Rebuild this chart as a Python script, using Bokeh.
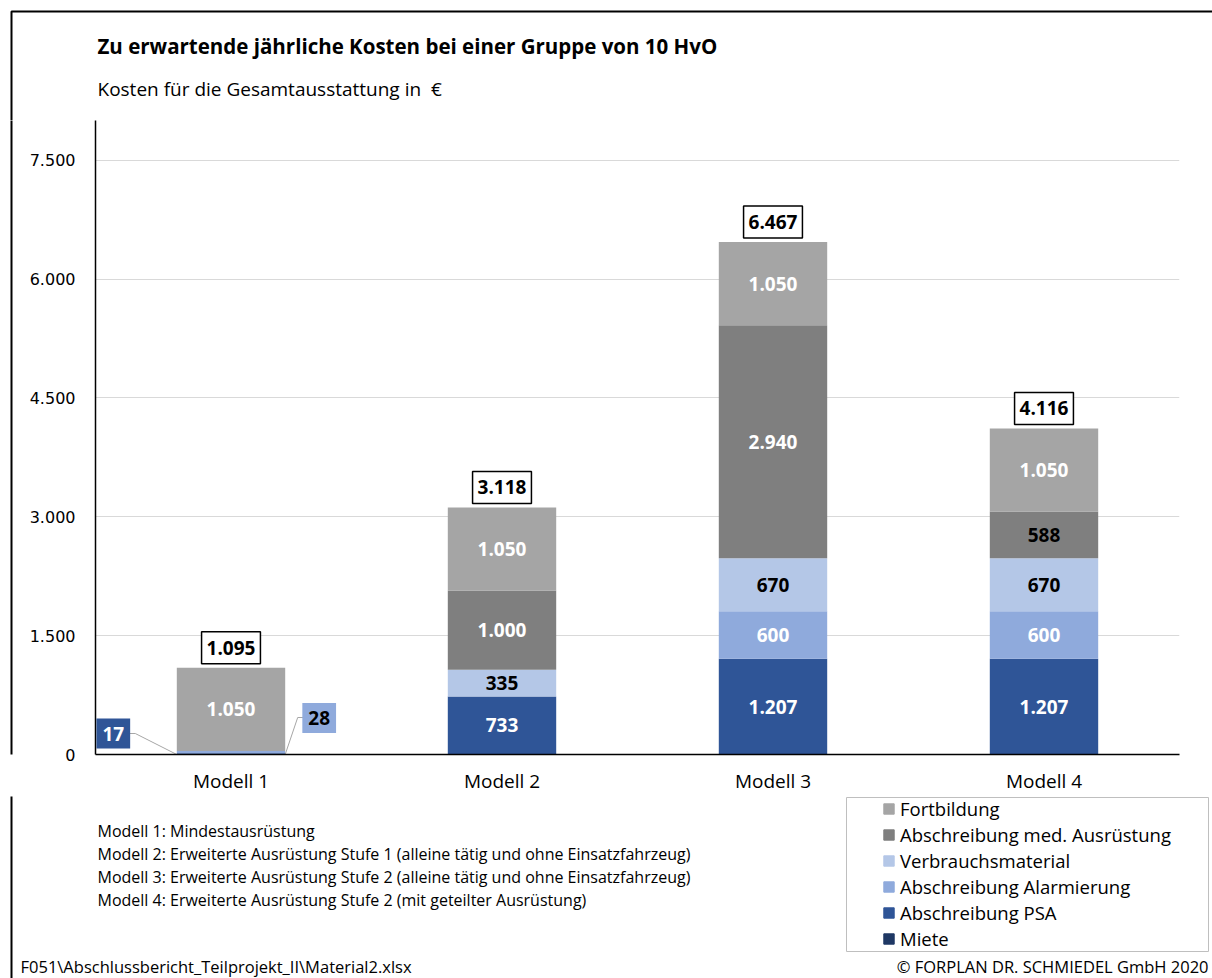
from bokeh.plotting import figure
from bokeh.layouts import column, row
from bokeh.models import (ColumnDataSource, FactorRange, Range1d, FixedTicker, Label,
                          Legend, LegendItem)
from bokeh.core.properties import value
from bokeh.embed import file_html
from bokeh.resources import INLINE

# ---- data -------------------------------------------------------------
models = ["Modell 1", "Modell 2", "Modell 3", "Modell 4"]
miete = [0, 0, 0, 0]
abschreibung_psa = [17, 733, 1207, 1207]
abschreibung_alarmierung = [28, 0, 600, 600]
verbrauchsmaterial = [0, 335, 670, 670]
abschreibung_med = [0, 1000, 2940, 588]
fortbildung = [1050, 1050, 1050, 1050]
totals = [1095, 3118, 6467, 4116]
y_ticks = [0, 1500, 3000, 4500, 6000, 7500]

series_names = ["Miete", "Abschreibung PSA", "Abschreibung Alarmierung",
                "Verbrauchsmaterial", "Abschreibung med. Ausrüstung", "Fortbildung"]
series_values = [miete, abschreibung_psa, abschreibung_alarmierung,
                 verbrauchsmaterial, abschreibung_med, fortbildung]

title_text = "Zu erwartende jährliche Kosten bei einer Gruppe von 10 HvO"
subtitle_text = "Kosten für die Gesamtausstattung in\u00a0 €"
footnotes = [
    "Modell 1: Mindestausrüstung",
    "Modell 2: Erweiterte Ausrüstung Stufe 1 (alleine tätig und ohne Einsatzfahrzeug)",
    "Modell 3: Erweiterte Ausrüstung Stufe 2 (alleine tätig und ohne Einsatzfahrzeug)",
    "Modell 4: Erweiterte Ausrüstung Stufe 2 (mit geteilter Ausrüstung)",
]
source_note = "F051\\Abschlussbericht_Teilprojekt_II\\Material2.xlsx"
copyright_note = "© FORPLAN DR. SCHMIEDEL GmbH 2020"

# ---- styling ----------------------------------------------------------
colors = ["#1F3864", "#2F5597", "#8FAADC", "#B4C7E7", "#7F7F7F", "#A5A5A5"]
label_colors = ["white", "white", "white", "black", "white", "white"]
callout_text_colors = ["white", "white", "black", "black", "white", "white"]
label_color_override = {("Modell 4", "Abschreibung med. Ausrüstung"): "black"}
FONT = "Open Sans"
W, H = 1212, 978
TOP_H = 120            # title strip
MID_H = 676            # chart strip
BOT_H = H - TOP_H - MID_H
STRIP_W = 20           # left strip beside the chart
Y_MAX = 8000
FRAME_COLOR = "black"


def de(v):
    return f"{v:,}".replace(",", ".")


def blank(width, height, fill="white"):
    f = figure(width=width, height=height, x_range=Range1d(0, width), y_range=Range1d(height, 0),
               output_backend="svg", toolbar_location=None, min_border=0)
    f.axis.visible = False
    f.grid.visible = False
    f.outline_line_color = None
    f.background_fill_color = fill
    f.border_fill_color = fill
    return f


def put_text(f, txt, x, y, size, bold=False, align="left"):
    f.add_layout(Label(x=x, y=y, text=txt, text_align=align, text_baseline="middle",
                       text_font=FONT, text_font_size=size,
                       text_font_style="bold" if bold else "normal", text_color="black"))


# ---- title strip --------------------------------------------------------
top = blank(W, TOP_H)
top.line([11, 11, W], [TOP_H + 2, 11, 11], line_color=FRAME_COLOR, line_width=2)
put_text(top, title_text, 97, 45, "20.5px", bold=True)
put_text(top, subtitle_text, 97, 88, "19px")

# ---- left strip carrying the frame rule ----------------------------------
strip = blank(STRIP_W, MID_H)
strip.line([11, 11], [-50, MID_H + 50], line_color=FRAME_COLOR, line_width=2)

# ---- chart --------------------------------------------------------------
L, R, T, B = 75, 33, 0, 42
p = figure(width=W - STRIP_W, height=MID_H, x_range=FactorRange(*models),
           y_range=Range1d(0, Y_MAX), output_backend="svg", toolbar_location=None,
           min_border_left=L, min_border_right=R, min_border_top=T, min_border_bottom=B)
p.outline_line_color = None
p.background_fill_color = "white"
p.border_fill_color = "white"

kx = len(models) / (W - STRIP_W - L - R)   # data units per pixel (x)
ky = Y_MAX / (MID_H - T - B)                # data units per pixel (y)

p.yaxis.ticker = FixedTicker(ticks=y_ticks)
p.yaxis.major_label_overrides = {t: de(t) for t in y_ticks}
p.yaxis.major_label_text_font = "DejaVu Sans"
p.yaxis.major_label_text_font_size = "16px"
p.yaxis.major_label_text_color = "black"
p.yaxis.major_label_standoff = 20
p.yaxis.axis_line_color = "black"
p.yaxis.axis_line_width = 1.5

p.xaxis.major_label_text_font = FONT
p.xaxis.major_label_text_font_size = "19px"
p.xaxis.major_label_text_color = "black"
p.xaxis.major_label_standoff = 13
p.xaxis.axis_line_color = "black"
p.xaxis.axis_line_width = 1.5

for ax in (p.xaxis, p.yaxis):
    ax.major_tick_line_color = None
    ax.minor_tick_line_color = None
    ax.major_tick_out = 0
    ax.major_tick_in = 0
    ax.minor_tick_out = 0

p.xgrid.grid_line_color = None
p.ygrid.grid_line_color = "#D9D9D9"
p.ygrid.grid_line_width = 1.2

data = {"model": models}
for name, vals in zip(series_names, series_values):
    data[name] = vals
src = ColumnDataSource(data)
p.vbar_stack(series_names, x="model", width=0.4, color=colors, source=src, line_color=None)

# labels inside the segments; thin segments get callouts instead
lx, ly, lt, lc = [], [], [], []
callouts = []
for i, m in enumerate(models):
    base = 0
    for j, (name, vals) in enumerate(zip(series_names, series_values)):
        v = vals[i]
        if v > 0:
            if v >= 100:
                lx.append(m)
                ly.append(base + v / 2)
                lt.append(de(v))
                lc.append(label_color_override.get((m, name), label_colors[j]))
            else:
                callouts.append((i, j, v))
        base += v
p.text(x="x", y="y", text="t", text_color="c",
       source=ColumnDataSource(dict(x=lx, y=ly, t=lt, c=lc)),
       text_font=value(FONT), text_font_style="bold", text_font_size="19px",
       text_align="center", text_baseline="middle")

# callout geometry in pixels relative to the bar's bottom corner
callout_geometry = [
    dict(side=-1, box=(-63.5, 21), elbow=[(-41.5, 21), (-47.5, 21)]),
    dict(side=1, box=(34, 36.5), elbow=[(12.5, 37), (18.5, 37)]),
]
for (i, j, v), geo in zip(callouts, callout_geometry):
    edge = i + 0.5 + geo["side"] * 0.2
    xs = [edge] + [edge + dx * kx for dx, _ in geo["elbow"]]
    ys = [0] + [dy * ky for _, dy in geo["elbow"]]
    p.line(xs, ys, line_color="#A6A6A6", line_width=1)
    bx, by = geo["box"]
    p.add_layout(Label(x=edge, y=0, x_offset=bx, y_offset=by, text=de(v),
                       anchor="center", text_align="center", text_baseline="middle",
                       text_font=FONT, text_font_style="bold", text_font_size="19px",
                       text_color=callout_text_colors[j],
                       background_fill_color=colors[j],
                       padding=dict(left=6, right=6, top=8, bottom=8)))

# totals above the bars
for i, t in enumerate(totals):
    bar_top = sum(vals[i] for vals in series_values)
    p.add_layout(Label(x=i + 0.5, y=bar_top, y_offset=4, text=de(t), anchor="bottom_center",
                       text_align="center", text_baseline="bottom",
                       text_font=FONT, text_font_style="bold", text_font_size="19px",
                       text_color="black", background_fill_color="white",
                       border_line_color="black", border_line_width=1.5,
                       padding=dict(left=5, right=5, top=9, bottom=9)))

middle = row(strip, p)

# ---- notes and legend strip ---------------------------------------------
bot = blank(W, BOT_H)
y0 = TOP_H + MID_H
bot.line([11, 11], [-2, BOT_H], line_color=FRAME_COLOR, line_width=2)
for k, line in enumerate(footnotes):
    put_text(bot, line, 97, 830 + 23 * k - y0, "16px")
put_text(bot, source_note, 20, 966 - y0, "16.5px")
put_text(bot, copyright_note, 1208, 966 - y0, "16.5px", align="right")

bot.quad(left=846, right=1208, top=797 - y0, bottom=951 - y0,
         fill_color=None, line_color="#BFBFBF", line_width=1)
# legend swatches: one off-canvas square per series so the legend has glyphs to show
swatches = [bot.rect(x=[-100], y=[-100], width=10, height=10, color=c) for c in colors]
items = [LegendItem(label=n, renderers=[r]) for n, r in zip(series_names, swatches)][::-1]
legend = Legend(items=items, location=(882, BOT_H - (951 - y0)), padding=0, margin=0,
                border_line_color=None, background_fill_alpha=0,
                glyph_width=13, glyph_height=13, label_standoff=5, spacing=1,
                label_text_font=FONT, label_text_font_size="18.5px", label_text_color="black")
bot.add_layout(legend)

layout = column(top, middle, bot)
open("out.html", "w").write(file_html(layout, INLINE))
